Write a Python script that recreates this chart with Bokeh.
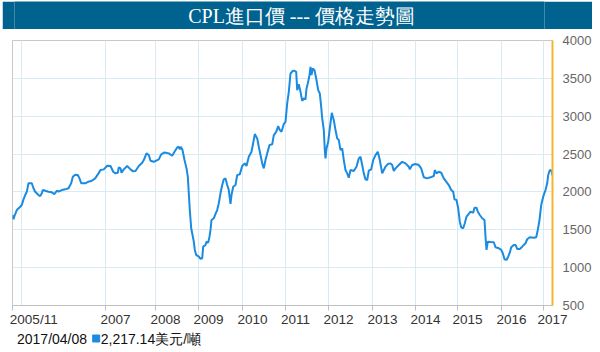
from bokeh.plotting import figure
from bokeh.models import Range1d, FixedTicker, LinearAxis
from bokeh.layouts import column
from bokeh.embed import file_html
from bokeh.resources import INLINE
from bokeh.core.properties import value

# ---------------- data ----------------
title_text = "CPL進口價 --- 價格走勢圖"
latest_date = "2017/04/08"
latest_value = 2217.14
unit_text = "美元/噸"

# x axis is an index axis (sample position), not linear in time
tick_pos = [0, 93, 143, 186, 230, 273, 316, 360, 403, 445, 489, 531]
tick_labels = ["2005/11", "2007", "2008", "2009", "2010", "2011",
               "2012", "2013", "2014", "2015", "2016", "2017"]
grid_pos = [9, 93, 143, 186, 230, 273, 316, 360, 403, 445, 489, 531]
y_ticks = [500, 1000, 1500, 2000, 2500, 3000, 3500, 4000]

idx = [0, 1, 2, 4.3, 7.7, 9.3, 11, 12.7, 14.3, 16, 19.3, 21, 22.7, 26, 27.7,
       29.3, 30.3, 32.7, 36, 39.3, 42, 44.3, 46, 49.3, 52.7, 56, 58.7, 60.3,
       62.7, 65.3, 67, 68.7, 72.7, 76, 79.3, 82.7, 86,
       88, 91.3, 94.7, 98, 100.7, 103, 105.3, 106.3, 108, 109, 111.3, 114.7,
       118, 120.7, 123, 126.3, 129.7, 131.3, 134, 136.3, 138, 141.3, 146.3,
       148.7, 152, 156.3, 159.7, 162, 164.7, 166.3, 167.3, 168.3, 170, 172,
       174, 175.3, 176.3, 177.3, 178.7, 179.7, 181.3, 182.3, 183.7, 186.3,
       188, 189.7, 190.7, 193, 194, 195.7, 197, 198, 199, 201.3, 203, 204.7,
       206.3, 208, 209.7, 211.3, 213, 214.7, 216.3, 218, 219, 220.7, 223,
       224.7, 227.3, 229.7, 232.3, 234, 236.3, 239, 240.3, 242.3, 244.7,
       246.3, 248, 249.7, 251.3, 253, 254.7, 257, 259.7, 261.3, 263.7, 265.7,
       267.3, 269, 271.3, 273, 274.7, 276.3, 278, 280.3,
       282, 283.7, 284.7, 286.3, 288, 289.7, 291.3, 293, 294, 295.3, 297, 298,
       299, 300.3, 302, 303.7, 305.7, 307.3, 308.7, 309.7, 311.3, 312.3, 313,
       314, 315.7, 317.3, 319.3, 321.3, 323, 324.7, 326.3, 328, 329.7, 331.3,
       333, 334.7, 336.3, 338, 341.3, 344, 346.3, 348, 349.7, 351.3, 353,
       354.7, 356.3, 358.7, 360.7, 363, 365.3, 367.3,
       369.7, 371.3, 373, 375.3, 378, 379.7, 381.3, 383, 386.3, 389.7, 393,
       396.3, 397.3, 399.7, 403, 406.3, 408.7, 411.3, 414.7, 418, 421.3,
       422.3, 424, 426.3, 428.7, 431.3, 433.7, 436.3, 438.7, 440.7, 442, 444,
       445.7, 447.3, 448.7, 450.7, 452.3, 454, 456.3, 458, 460.7, 462, 464,
       465.3, 467.3, 469.7, 472, 473, 474, 475.3, 478, 481.3, 483, 486.3,
       488.7, 490.3, 492, 494, 495.7, 497.3, 498.7, 501.3, 503, 504.7, 507.3,
       509.7, 511.3, 513, 514.7, 517.3, 521.3, 523.7, 525.3, 527, 528.7,
       530.7, 533, 534.7, 535.7, 537.3, 539, 540]

price = [1695, 1639, 1682, 1761, 1805, 1827, 1902, 1959, 2003, 2114, 2114,
         2048, 2003, 1959, 1946, 1982, 2025, 2016, 2003, 1995, 1972, 2016,
         2003, 2025, 2034, 2048, 2114, 2201, 2227, 2223, 2179, 2114, 2114,
         2135, 2148, 2179, 2245,
         2289, 2298, 2346, 2342, 2267, 2245, 2253, 2325, 2311, 2253, 2298,
         2342, 2298, 2272, 2276, 2342, 2385, 2421, 2509, 2487, 2412, 2398,
         2430, 2496, 2522, 2509, 2478, 2530, 2588, 2596, 2562, 2596, 2553,
         2421, 2311, 2201, 1982, 1761, 1520, 1454, 1343, 1234, 1168, 1145,
         1115, 1124, 1277, 1300, 1343, 1330, 1409, 1498, 1629, 1652, 1709,
         1761, 1850, 1982, 2091, 2166, 2179, 2091, 2025, 1841, 1959, 2069,
         2091, 2223, 2232, 2342, 2377, 2342, 2464, 2530, 2619, 2764, 2707,
         2596, 2487, 2377, 2311, 2421, 2509, 2619, 2628, 2751, 2794, 2869,
         2817, 2794, 2896, 2926, 3169, 3322, 3564, 3599,
         3599, 3586, 3344, 3423, 3322, 3203, 3235, 3221, 3367, 3433, 3542,
         3652, 3542, 3630, 3608, 3498, 3344, 3300, 3124, 2971, 2817, 2553,
         2443, 2575, 2662, 2839, 3045, 2948, 2817, 2707, 2685, 2553, 2575,
         2421, 2289, 2245, 2187, 2289, 2276, 2333, 2443, 2464, 2355, 2245,
         2166, 2157, 2280, 2298, 2421, 2487, 2530, 2421,
         2245, 2289, 2333, 2368, 2377, 2355, 2276, 2311, 2355, 2398, 2377,
         2333, 2298, 2355, 2368, 2355, 2311, 2193, 2179, 2193, 2210, 2289,
         2245, 2267, 2253, 2179, 2135, 2091, 2025, 2003, 1902, 1893, 1784,
         1607, 1533, 1520, 1586, 1673, 1709, 1739, 1726, 1792, 1792,
         1739, 1695, 1652, 1629, 1409, 1234, 1343, 1339, 1335, 1269, 1256,
         1234, 1190, 1111, 1102, 1145, 1198, 1269, 1300, 1300, 1247, 1247,
         1277, 1300, 1322, 1375, 1401, 1396, 1401, 1498, 1629, 1827, 1937,
         2025, 2114, 2223, 2289, 2280, 2217]

# ---------------- styles ----------------
BAR_BLUE = "#00628f"
LINE_BLUE = "#1a8be0"
GRID = "#d9eaf5"
ORANGE = "#f3b533"
SANS = "Liberation Sans"
SERIF = "Liberation Serif"

# title bar
tf = figure(width=590, height=28, x_range=Range1d(0, 1), y_range=Range1d(0, 1),
            x_axis_type=None, y_axis_type=None, toolbar_location=None,
            output_backend="svg", min_border=0, margin=(1, 8, 0, 2))
tf.outline_line_color = None
tf.background_fill_color = BAR_BLUE
tf.border_fill_color = BAR_BLUE
tf.text(x=[0.5], y=[0.5], text=[title_text], text_align="center",
        text_baseline="middle", text_color="white", x_offset=22,
        text_font=value(SERIF), text_font_size="20px")

# main chart
p = figure(frame_width=540, frame_height=265,
           x_range=Range1d(0, 540), y_range=Range1d(500, 4000),
           y_axis_location="right", toolbar_location=None,
           output_backend="svg",
           min_border_left=12, min_border_right=48,
           min_border_top=11, min_border_bottom=22)
p.outline_line_color = "#c8c8c8"
p.background_fill_color = "white"
p.border_fill_color = "white"

p.xgrid.ticker = FixedTicker(ticks=grid_pos)
p.ygrid.ticker = FixedTicker(ticks=y_ticks)
p.grid.grid_line_color = GRID
p.grid.grid_line_width = 1

# axis 1: line and tick marks at the true year positions (no labels)
xa = p.xaxis[0]
xa.ticker = FixedTicker(ticks=tick_pos)
xa.major_label_overrides = {t: "" for t in tick_pos}
xa.major_label_text_font_size = "0px"
xa.major_label_standoff = 0
xa.axis_line_color = "#c0c0c0"
xa.major_tick_line_color = "#c0c0c0"
xa.major_tick_out = 5
xa.major_tick_in = 0
xa.minor_tick_line_color = None

# axis 2: labels, placed so that each label starts just left of its tick
label_pos = [min(t + 3.75 * len(l) - 5, 539.9) for t, l in zip(tick_pos, tick_labels)]
xl = LinearAxis(ticker=FixedTicker(ticks=label_pos),
                major_label_overrides={lp: l for lp, l in zip(label_pos, tick_labels)},
                axis_line_color=None, major_tick_line_color=None,
                minor_tick_line_color=None, major_tick_out=0, major_tick_in=0,
                major_label_standoff=1, major_label_text_color="#333333",
                major_label_text_font=SANS, major_label_text_font_size="13.5px")
p.add_layout(xl, "below")

ya = p.yaxis[0]
ya.ticker = FixedTicker(ticks=y_ticks)
ya.axis_line_color = ORANGE
ya.axis_line_width = 2
ya.major_tick_line_color = None
ya.minor_tick_line_color = None
ya.major_label_standoff = 4
ya.major_label_text_color = "#666666"
ya.major_label_text_font = SANS
ya.major_label_text_font_size = "13px"

p.line(idx, price, line_color=LINE_BLUE, line_width=2)

# footer
ff = figure(width=600, height=20, x_range=Range1d(0, 600), y_range=Range1d(0, 1),
            x_axis_type=None, y_axis_type=None, toolbar_location=None,
            output_backend="svg", min_border=0)
ff.outline_line_color = None
ff.text(x=[5], y=[0.55], text=[latest_date], text_baseline="middle",
        text_color="#111111", text_font=value(SANS), text_font_size="14px")
ff.scatter(x=[93], y=[0.55], marker="square", size=7, color=LINE_BLUE)
ff.text(x=[98], y=[0.55], text=[f"{latest_value:,.2f}{unit_text}"],
        text_baseline="middle", text_color="#111111",
        text_font=value(SANS), text_font_size="14px")

layout = column(tf, p, ff, spacing=0)
open("out.html", "w").write(file_html(layout, INLINE))
